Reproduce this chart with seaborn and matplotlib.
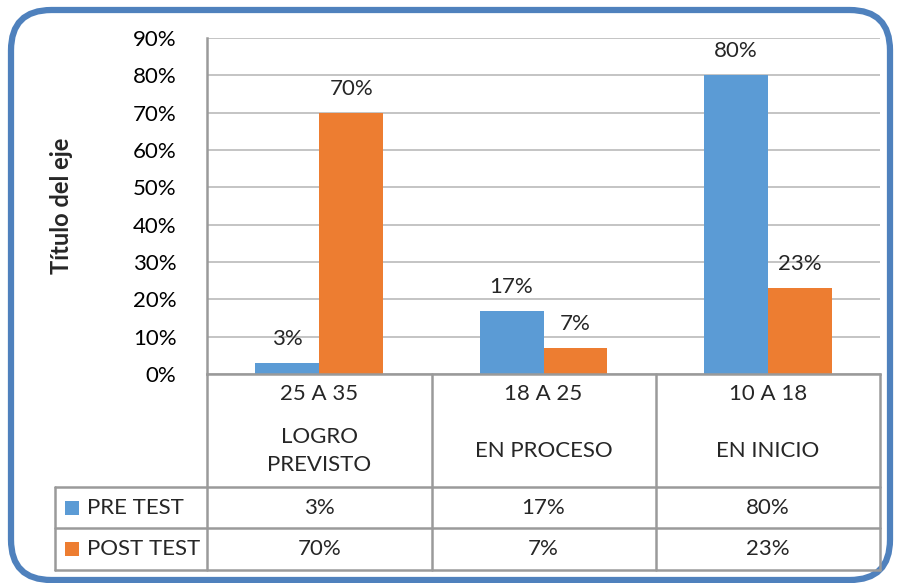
import matplotlib
matplotlib.use("Agg")
import matplotlib.pyplot as plt
import seaborn as sns
import pandas as pd
from matplotlib.patches import FancyBboxPatch, Rectangle
from matplotlib.lines import Line2D
from matplotlib.ticker import FuncFormatter
import matplotlib.transforms as mtrans

# ---- data ----
ranges = ["25 A 35", "18 A 25", "10 A 18"]
levels = ["LOGRO\nPREVISTO", "EN PROCESO", "EN INICIO"]
series = ["PRE TEST", "POST TEST"]
pre_test = [3, 17, 80]
post_test = [70, 7, 23]
yticks = [0, 10, 20, 30, 40, 50, 60, 70, 80, 90]
colors = ["#5B9BD5", "#ED7D31"]

df = pd.DataFrame({
    "cat": ranges * 2,
    "serie": [series[0]] * 3 + [series[1]] * 3,
    "val": pre_test + post_test,
})

sns.set_theme(style="white")
plt.rcParams["font.family"] = ["Lato", "DejaVu Sans"]

W, H = 897, 583
fig = plt.figure(figsize=(W / 100, H / 100), dpi=100)

def fx(px):
    return px / W

def fy(py):
    return 1 - py / H

L, R, T, B = 207, 880, 38, 374
ax = fig.add_axes([fx(L), fy(B), fx(R) - fx(L), fy(T) - fy(B)])

sns.barplot(data=df, x="cat", y="val", hue="serie", order=ranges,
            hue_order=series, palette=colors, width=0.57, ax=ax,
            saturation=1, legend=False, errorbar=None, linewidth=0,
            edgecolor="none")

FS = 16
ax.set_xlim(-0.5, 2.5)
ax.set_ylim(0, 90)
ax.set_yticks(yticks)
ax.yaxis.set_major_formatter(FuncFormatter(lambda v, p: f"{v:.0f}%"))
ax.tick_params(axis="y", length=0, pad=22, labelsize=FS, labelcolor="black")
ax.set_xticks([])
ax.set_xlabel("")
ax.set_ylabel("Título del eje", fontsize=17, fontweight="bold", va="center")
ax.yaxis.set_label_coords((62 - L) / (R - L), 0.5)
ax.grid(axis="y", color="#BFBFBF", linewidth=1.3)
ax.set_axisbelow(True)
for s in ["top", "right"]:
    ax.spines[s].set_visible(False)
for s in ["left", "bottom"]:
    ax.spines[s].set_color("#9A9A9A")
    ax.spines[s].set_linewidth(1.8)

for cont in ax.containers:
    ax.bar_label(cont, labels=[f"{v:.0f}%" for v in cont.datavalues],
                 padding=10, fontsize=FS)

# ---- data table ----
lc = "#9A9A9A"
lw = 1.8
def hline(y, x0, x1):
    fig.add_artist(Line2D([fx(x0), fx(x1)], [fy(y), fy(y)], color=lc, lw=lw))
def vline(x, y0, y1):
    fig.add_artist(Line2D([fx(x), fx(x)], [fy(y0), fy(y1)], color=lc, lw=lw))

r1, r2, r3 = 487, 528, 570
for y in (r1, r2, r3):
    hline(y, 55, R)
vline(55, r1, r3)
vline(L, B, r3)
vline(R, B, r3)
for x in (432, 656):
    vline(x, B, r3)

tr = mtrans.blended_transform_factory(ax.transData, fig.transFigure)
for i, (rg, lv) in enumerate(zip(ranges, levels)):
    fig.text(i, fy(394.5), rg, transform=tr, ha="center", va="center", fontsize=FS)
    fig.text(i, fy(451), lv, transform=tr, ha="center", va="center",
             fontsize=FS, linespacing=1.5)
    fig.text(i, fy(507.5), f"{pre_test[i]}%", transform=tr, ha="center",
             va="center", fontsize=FS)
    fig.text(i, fy(549), f"{post_test[i]}%", transform=tr, ha="center",
             va="center", fontsize=FS)

for name, col, yc in zip(series, colors, (507.5, 549)):
    fig.add_artist(Rectangle((fx(65), fy(yc + 7)), fx(14), fy(0) - fy(14),
                             facecolor=col, edgecolor="none"))
    fig.text(fx(87), fy(yc), name, ha="left", va="center", fontsize=FS)

# ---- rounded border ----
border = FancyBboxPatch((fx(11), fy(580)), fx(890) - fx(11), fy(10) - fy(580),
                        boxstyle="round,pad=0,rounding_size=0.045",
                        transform=fig.transFigure, facecolor="none",
                        edgecolor="#4F81BD", linewidth=4.5,
                        mutation_aspect=W / H)
fig.add_artist(border)

fig.savefig("out.png", dpi=100)
